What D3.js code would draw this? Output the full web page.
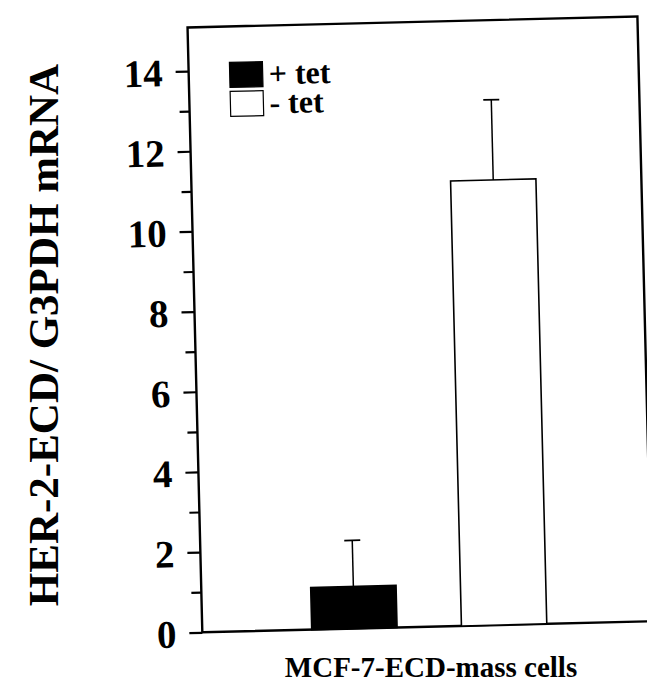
<!DOCTYPE html>
<html>
<head>
<meta charset="utf-8">
<script src="https://cdn.jsdelivr.net/npm/d3@7"></script>
<style>
  body { margin: 0; background: #fff; }
  text { font-family: "Liberation Serif", "Times New Roman", serif; font-weight: bold; fill: #000; }
</style>
</head>
<body>
<svg id="chart" width="647" height="685"></svg>
<script>
// data
const groups = ["+ tet", "- tet"];
const means = [1.05, 11.1];
const errors = [1.15, 2.0];
const fills = ["#000", "#fff"];
const yTicks = [0, 2, 4, 6, 8, 10, 12, 14];

const width = 647, height = 685;
const plotLeft = 195, plotRight = 645, plotTop = 22, plotBottom = 627;

const svg = d3.select("#chart");

// the scan is slightly tilted
const g = svg.append("g")
  .attr("transform", "rotate(-1.4, 415, 330)");

const y = d3.scaleLinear().domain([0, 14]).range([plotBottom, plotBottom - 14 * 40.1]);
const x = d3.scaleBand().domain(groups).range([267, 577])
  .paddingInner(0.43).paddingOuter(0.25);

// frame
g.append("rect")
  .attr("x", plotLeft).attr("y", plotTop)
  .attr("width", plotRight - plotLeft).attr("height", plotBottom - plotTop)
  .attr("fill", "none").attr("stroke", "#000").attr("stroke-width", 2.4);

// y axis with minor ticks
const yAxis = d3.axisLeft(y)
  .tickValues(d3.range(0, 15, 1))
  .tickSize(12)
  .tickPadding(14)
  .tickFormat(d => yTicks.includes(d) ? d : "");
const ya = g.append("g").attr("transform", `translate(${plotLeft},0)`).call(yAxis);
ya.select(".domain").remove();
ya.selectAll(".tick line").attr("stroke", "#000").attr("stroke-width", 2.2)
  .attr("x2", d => d % 2 === 0 ? -13 : -10);
ya.selectAll(".tick text")
  .attr("dy", "0.36em")
  .style("font-size", "39px")
  .style("font-family", "'Liberation Serif', serif")
  .style("font-weight", "bold");

// bars
g.selectAll("rect.bar")
  .data(groups)
  .join("rect")
  .attr("class", "bar")
  .attr("x", d => x(d))
  .attr("width", x.bandwidth())
  .attr("y", (d, i) => y(means[i]))
  .attr("height", (d, i) => y(0) - y(means[i]))
  .attr("fill", (d, i) => fills[i])
  .attr("stroke", "#000").attr("stroke-width", 1.6);

// upper error bars
g.selectAll("line.err")
  .data(groups)
  .join("line")
  .attr("class", "err")
  .attr("x1", d => x(d) + x.bandwidth() / 2)
  .attr("x2", d => x(d) + x.bandwidth() / 2)
  .attr("y1", (d, i) => y(means[i]))
  .attr("y2", (d, i) => y(means[i] + errors[i]))
  .attr("stroke", "#000").attr("stroke-width", 1.5);

g.selectAll("line.cap")
  .data(groups)
  .join("line")
  .attr("class", "cap")
  .attr("x1", d => x(d) + x.bandwidth() / 2 - 8)
  .attr("x2", d => x(d) + x.bandwidth() / 2 + 8)
  .attr("y1", (d, i) => y(means[i] + errors[i]))
  .attr("y2", (d, i) => y(means[i] + errors[i]))
  .attr("stroke", "#000").attr("stroke-width", 1.8);

// legend
const leg = g.append("g").attr("transform", "translate(236,58)");
groups.forEach((name, i) => {
  leg.append("rect")
    .attr("x", 0).attr("y", i * 29)
    .attr("width", 33).attr("height", 25)
    .attr("fill", fills[i]).attr("stroke", "#000").attr("stroke-width", 1.2);
  leg.append("text")
    .attr("x", 39).attr("y", i * 29 + 23)
    .style("font-size", "32px")
    .text(name);
});

// axis titles
svg.append("text")
  .attr("transform", "translate(58,335) rotate(-90)")
  .attr("text-anchor", "middle")
  .style("font-size", "43px")
  .text("HER-2-ECD/ G3PDH mRNA");

svg.append("text")
  .attr("x", 431).attr("y", 677)
  .attr("text-anchor", "middle")
  .style("font-size", "29px")
  .text("MCF-7-ECD-mass cells");
</script>
</body>
</html>
